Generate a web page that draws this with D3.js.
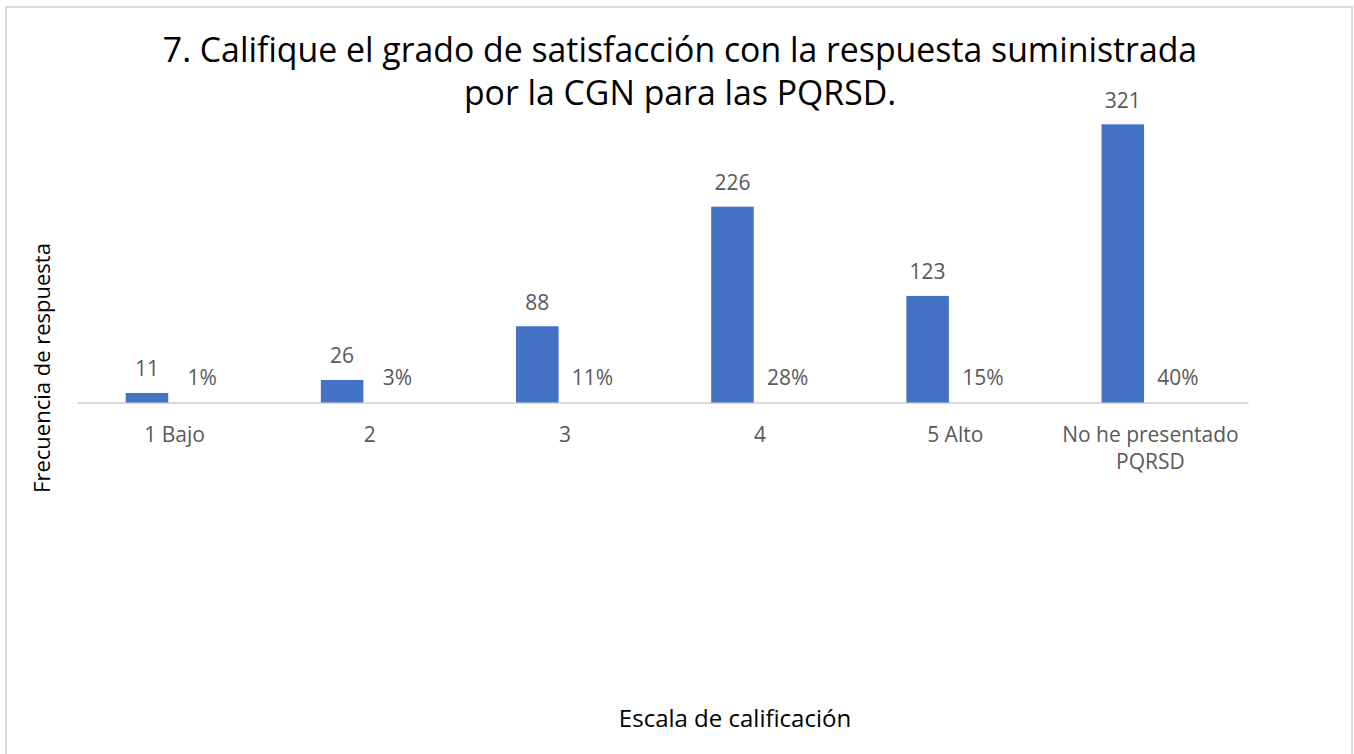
<!DOCTYPE html>
<html>
<head>
<meta charset="utf-8">
<script src="https://cdn.jsdelivr.net/npm/d3@7"></script>
<style>
  body { margin: 0; background: #fff; }
  text { font-family: "Open Sans", sans-serif; }
</style>
</head>
<body>
<svg class="chart"></svg>
<script>
// Satisfaction scale answers
let categories = ['1 Bajo', '2', '3', '4', '5 Alto', 'No he presentado PQRSD']
let counts = [11, 26, 88, 226, 123, 321]
let percents = [0.01, 0.03, 0.11, 0.28, 0.15, 0.40]
let series = ['count', 'pct']

let width = 1354
let height = 754

let svg = d3.select('.chart')
    .attr('width', width)
    .attr('height', height)

// light frame round the chart area
svg.append('rect')
    .attr('x', 6)
    .attr('y', 7)
    .attr('width', 1346)
    .attr('height', 800)
    .attr('fill', 'none')
    .attr('stroke', '#d9d9d9')
    .attr('stroke-width', 2)

let plot = { left: 77, right: 1248, base: 402.5 }

let x = d3.scaleBand().domain(categories).range([plot.left, plot.right])
let xs = d3.scaleBand().domain(series).range([-48.9, 48.9]).paddingInner(0.23)
let y = d3.scaleLinear().domain([0, 350]).range([plot.base, 99.2])

let rows = categories.map((c, i) => ({ cat: c, count: counts[i], pct: percents[i] }))

// x axis line
let xAxis = svg.append('g').attr('class', 'axis x')
    .attr('transform', 'translate(0,' + plot.base + ')')
    .call(d3.axisBottom(x).tickSize(0).tickPadding(0))
xAxis.select('.domain').attr('stroke', '#d9d9d9').attr('stroke-width', 2)
xAxis.selectAll('.tick text').remove()

// tick labels (last one wraps to 2 lines)
let tickLines = { 'No he presentado PQRSD': ['No he presentado', 'PQRSD'] }
let ticks = svg.selectAll('.tick-label')
    .data(categories)
    .enter()
    .append('text')
    .attr('class', 'tick-label')
    .attr('x', d => x(d) + x.bandwidth() / 2)
    .attr('y', 441.5)
    .attr('text-anchor', 'middle')
    .attr('font-size', 21)
    .attr('fill', '#595959')
ticks.each(function (d) {
  let lines = tickLines[d] || [d]
  d3.select(this).selectAll('tspan')
    .data(lines)
    .enter()
    .append('tspan')
    .attr('x', x(d) + x.bandwidth() / 2)
    .attr('dy', (l, i) => i === 0 ? 0 : 27.5)
    .text(l => l)
})

// count bars
svg.selectAll('.bar')
    .data(rows)
    .enter()
    .append('rect')
    .attr('class', 'bar')
    .attr('x', d => x(d.cat) + x.bandwidth() / 2 + xs('count'))
    .attr('y', d => y(d.count))
    .attr('width', xs.bandwidth())
    .attr('height', d => plot.base - y(d.count))
    .attr('fill', '#4472c4')

// count labels
svg.selectAll('.count-label')
    .data(rows)
    .enter()
    .append('text')
    .attr('class', 'count-label')
    .attr('x', d => x(d.cat) + x.bandwidth() / 2 + xs('count') + xs.bandwidth() / 2)
    .attr('y', d => y(d.count) - 16.5)
    .attr('text-anchor', 'middle')
    .attr('font-size', 21)
    .attr('fill', '#595959')
    .text(d => d.count)

// percent series: bars on a 0-1 scale measured in counts, so they sit flat on the axis
svg.selectAll('.pct-bar')
    .data(rows)
    .enter()
    .append('rect')
    .attr('class', 'pct-bar')
    .attr('x', d => x(d.cat) + x.bandwidth() / 2 + xs('pct'))
    .attr('y', d => y(d.pct))
    .attr('width', xs.bandwidth())
    .attr('height', d => plot.base - y(d.pct))
    .attr('fill', 'none')

svg.selectAll('.pct-label')
    .data(rows)
    .enter()
    .append('text')
    .attr('class', 'pct-label')
    .attr('x', d => x(d.cat) + x.bandwidth() / 2 + xs('pct') + xs.bandwidth() / 2)
    .attr('y', d => y(d.pct) - 17.5)
    .attr('text-anchor', 'middle')
    .attr('font-size', 21)
    .attr('fill', '#595959')
    .text(d => d3.format('.0%')(d.pct))

// Title
let title = svg.append('text')
    .attr('x', 680)
    .attr('y', 62)
    .attr('text-anchor', 'middle')
    .attr('font-size', 33.8)
    .attr('fill', '#000')
title.append('tspan').attr('x', 680).text('7. Califique el grado de satisfacción con la respuesta suministrada')
title.append('tspan').attr('x', 680).attr('dy', 43).text('por la CGN para las PQRSD.')

// axis titles
svg.append('text')
    .attr('transform', 'translate(50,368) rotate(-90)')
    .attr('text-anchor', 'middle')
    .attr('font-size', 22)
    .attr('fill', '#000')
    .text('Frecuencia de respuesta')

svg.append('text')
    .attr('x', 735)
    .attr('y', 727)
    .attr('text-anchor', 'middle')
    .attr('font-size', 24)
    .attr('fill', '#000')
    .text('Escala de calificación')
</script>
</body>
</html>
